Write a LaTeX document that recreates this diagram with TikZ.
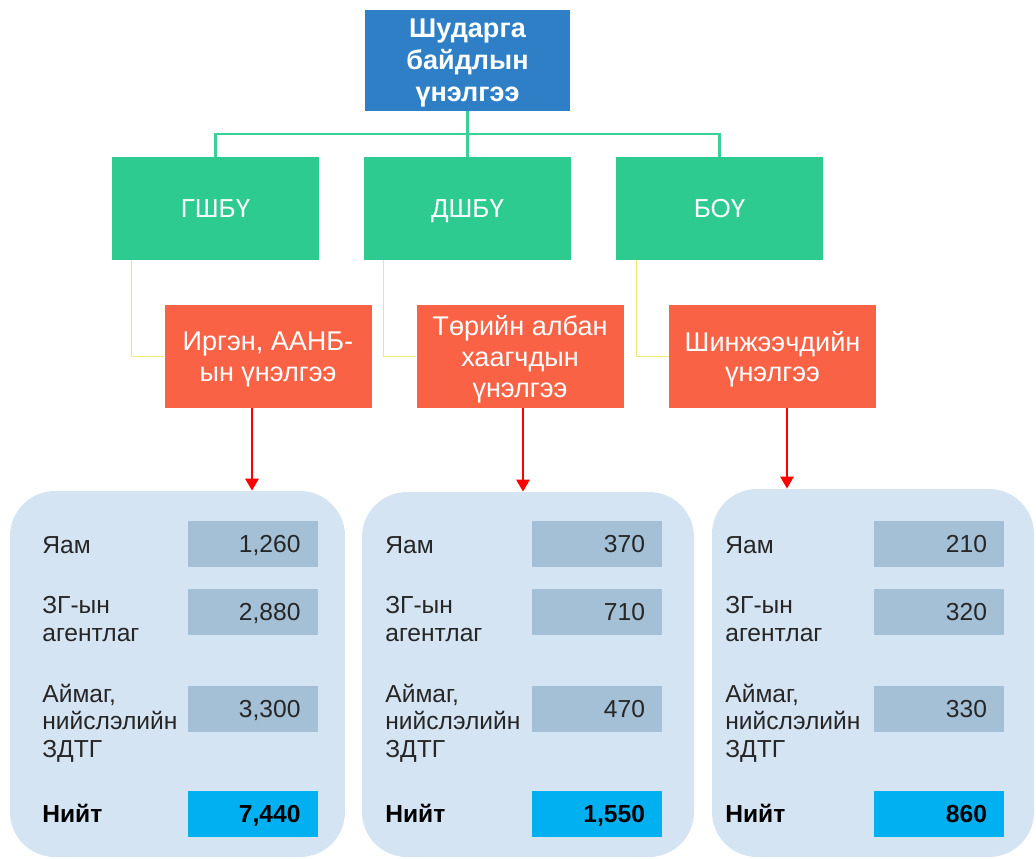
\documentclass[tikz,border=0pt]{standalone}
\usepackage{fontspec}
\setmainfont{Liberation Sans}
\usetikzlibrary{arrows.meta}

\definecolor{topblue}{RGB}{46,127,198}
\definecolor{groupgreen}{RGB}{46,203,145}
\definecolor{busgreen}{RGB}{58,208,150}
\definecolor{linkyellow}{RGB}{242,232,112}
\definecolor{methodred}{RGB}{250,98,70}
\definecolor{panelblue}{RGB}{213,228,243}
\definecolor{valblue}{RGB}{163,192,214}
\definecolor{totalblue}{RGB}{0,176,240}
\definecolor{textgray}{RGB}{38,38,38}

% one unit = one pixel of the original slide
\def\u{0.02cm}

\tikzset{
  box/.style={inner sep=0pt, align=center, text=white, minimum height=103*\u,
    text depth=0pt, font=\fontsize{14.8pt}{17pt}\selectfont},
  topbox/.style={box, fill=topblue, minimum width=205*\u, minimum height=101*\u,
    font=\bfseries\fontsize{15.4pt}{18.2pt}\selectfont},
  groupbox/.style={box, fill=groupgreen, minimum width=207*\u},
  methodbox/.style={box, fill=methodred, minimum width=207*\u,
    font=\fontsize{15.4pt}{17.4pt}\selectfont},
  panel/.style={fill=panelblue, rounded corners=45*\u, inner sep=0pt},
  valbox/.style={fill=valblue, inner xsep=17*\u, inner ysep=0pt, text width=96*\u,
    minimum height=46*\u, text depth=0pt, align=right, text=textgray,
    font=\fontsize{14pt}{16pt}\selectfont},
  totalbox/.style={valbox, fill=totalblue, text=black, font=\bfseries\fontsize{14pt}{16pt}\selectfont},
  lbl/.style={anchor=west, inner sep=0pt, align=left, text=textgray,
    font=\fontsize{14pt}{15.6pt}\selectfont},
  busline/.style={busgreen, line width=1.4pt},
  yellowline/.style={linkyellow, line width=0.9pt},
  redarrow/.style={red, line width=1.5pt, -{Triangle[length=0.24cm,width=0.26cm]}},
}

\begin{document}
\begin{tikzpicture}[x=\u, y=-\u]
  \useasboundingbox (0,0) rectangle (1036,859);

  \node[topbox] (top) at (467.5,60.5) {Шударга\\байдлын\\үнэлгээ};

  \node[groupbox] (gshbu) at (215.5,208.5) {ГШБҮ};
  \node[groupbox] (dshbu) at (467.5,208.5) {ДШБҮ};
  \node[groupbox] (boy)   at (719.5,208.5) {БОҮ};

  \node[methodbox] (irgen)   at (268,356.5)   {Иргэн, ААНБ-\\ын үнэлгээ};
  \node[methodbox] (alban)   at (520,356.5)   {Төрийн албан\\хаагчдын\\үнэлгээ};
  \node[methodbox] (shinjee) at (772.5,356.5) {Шинжээчдийн\\үнэлгээ};

  % tree lines
  \coordinate (bus) at (467.5,134);
  \draw[busline] (gshbu.north) |- (bus) -| (boy.north);
  \draw[busline] (top.south) -- (dshbu.north);

  \draw[yellowline] ([xshift=20*\u]gshbu.south west) |- (irgen.west);
  \draw[yellowline] ([xshift=20*\u]dshbu.south west) |- (alban.west);
  \draw[yellowline] ([xshift=21*\u]boy.south west) |- (shinjee.west);

  % result panels
  \foreach \c/\src/\ax/\px/\py/\pw/\ph/\lx/\vx/\va/\vb/\vc/\vt in {
      A/irgen/-16/177.5/674/335/366/42/252.5/{1,260}/{2,880}/{3,300}/{7,440},
      B/alban/3/528/674.5/332/365/385/597/370/710/470/{1,550},
      C/shinjee/14.5/873/673/322/368/725/939/210/320/330/860} {
    \node[panel, minimum width=\pw*\u, minimum height=\ph*\u] (pan\c) at (\px,\py) {};
    \draw[redarrow] ([xshift=\ax*\u]\src.south) coordinate (a\c) -- (a\c |- pan\c.north);

    \node[valbox] (yamv\c) at (\vx,543.5) {\va};
    \node[valbox] (agv\c) at (\vx,611.5) {\vb};
    \node[valbox] (aimv\c) at (\vx,709) {\vc};
    \node[totalbox] (niitv\c) at (\vx,814) {\vt};

    \node[lbl] (yam\c) at (\lx,545) {Яам};
    \node[lbl] (ag\c) at (\lx,619) {ЗГ-ын\\агентлаг};
    \node[lbl] (aim\c) at (\lx,723) {Аймаг,\\нийслэлийн\\ЗДТГ};
    \node[lbl, font=\bfseries\fontsize{14pt}{15.6pt}\selectfont, text=black] (niit\c) at (\lx,813) {Нийт};
  }
\end{tikzpicture}
\end{document}
